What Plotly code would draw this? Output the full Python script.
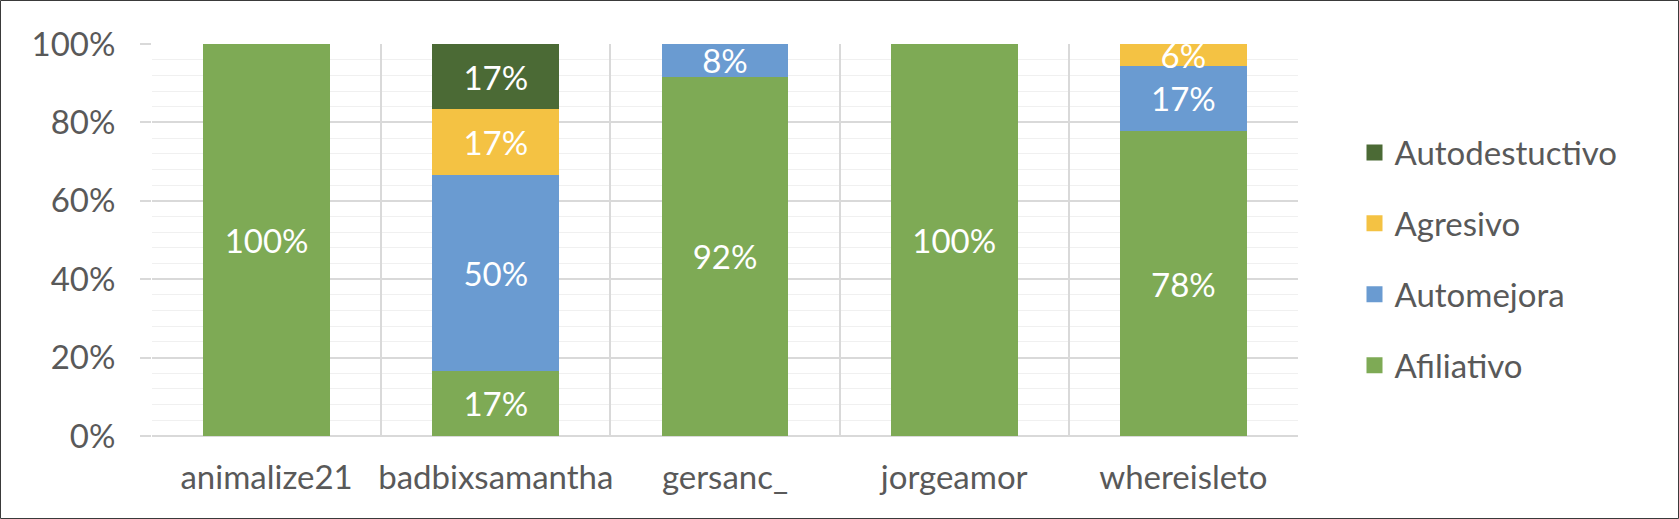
import plotly.graph_objects as go

categories = ["animalize21", "badbixsamantha", "gersanc_", "jorgeamor", "whereisleto"]
afiliativo = [1.0, 1/6, 11/12, 1.0, 14/18]
automejora = [0.0, 3/6, 1/12, 0.0, 3/18]
agresivo = [0.0, 1/6, 0.0, 0.0, 1/18]
autodestuctivo = [0.0, 1/6, 0.0, 0.0, 0.0]
y_ticks = [0, 0.2, 0.4, 0.6, 0.8, 1.0]
y_tick_labels = ["0%", "20%", "40%", "60%", "80%", "100%"]

series = [
    ("Afiliativo", afiliativo, "#7EAA55"),
    ("Automejora", automejora, "#6A9BD1"),
    ("Agresivo", agresivo, "#F4C243"),
    ("Autodestuctivo", autodestuctivo, "#4B6A35"),
]

FONT = "Lato, sans-serif"
FS = 33
TXT = "#595959"

W, H = 1679, 519
L, R, T, B = 152, 381, 44, 83
pw, ph = W - L - R, H - T - B

fig = go.Figure()
for name, vals, color in series:
    texts = [f"{v:.0%}" if v > 0 else "" for v in vals]
    fig.add_trace(go.Bar(
        x=categories, y=vals, name=name, marker=dict(color=color, line=dict(width=0)),
        text=texts, textposition="inside", insidetextanchor="middle", textangle=0,
        constraintext="none", cliponaxis=False,
        textfont=dict(family=FONT, size=FS, color="white"),
        showlegend=False, hoverinfo="skip",
    ))
# legend proxies, top-to-bottom as in the reference legend
for name, vals, color in reversed(series):
    fig.add_trace(go.Scatter(
        x=[None], y=[None], mode="markers", name=name, legendgroup=name,
        marker=dict(symbol="square", size=16, color=color),
    ))

fig.update_layout(
    width=W, height=H,
    margin=dict(l=L, r=R, t=T, b=B, pad=0, autoexpand=False),
    barmode="stack", bargap=0.446,
    plot_bgcolor="white", paper_bgcolor="white",
    font=dict(family=FONT, size=FS, color=TXT),
    legend=dict(
        x=(1354.5 - L) / pw, xanchor="left", y=(H - B - 259) / ph, yanchor="middle",
        traceorder="grouped", tracegroupgap=25,
        font=dict(family=FONT, size=FS, color=TXT),
        bgcolor="rgba(0,0,0,0)",
    ),
    xaxis=dict(
        type="category", tickson="boundaries", showgrid=True, gridcolor="#D9D9D9", gridwidth=2,
        ticks="", showline=False, zeroline=False, ticklabelstandoff=19,
        tickangle=0, automargin=False,
        tickfont=dict(family=FONT, size=FS, color=TXT),
    ),
    yaxis=dict(
        range=[0, 1], tickvals=y_ticks, ticktext=y_tick_labels,
        showgrid=True, gridcolor="#D9D9D9", gridwidth=2,
        zeroline=True, zerolinecolor="#D9D9D9", zerolinewidth=2,
        ticks="outside", ticklen=11, tickcolor="#D9D9D9", tickwidth=2,
        ticklabelstandoff=18, automargin=False,
        minor=dict(dtick=0.04, tick0=0, showgrid=True, gridcolor="#F0F0F0", gridwidth=1.3, ticks=""),
        showline=False, tickfont=dict(family=FONT, size=FS, color=TXT),
    ),
    shapes=[dict(
        type="rect", xref="paper", yref="paper",
        x0=(-L + 0.5) / pw, x1=1 + (R - 0.5) / pw,
        y0=(-B + 0.5) / ph, y1=1 + (T - 0.5) / ph,
        line=dict(color="#3A3A3A", width=1), fillcolor="rgba(0,0,0,0)", layer="above",
    )],
)

fig.write_html(
    "out.html",
    config={"displayModeBar": False},
    post_script="document.body.style.margin='0';document.body.style.overflow='hidden';",
)
